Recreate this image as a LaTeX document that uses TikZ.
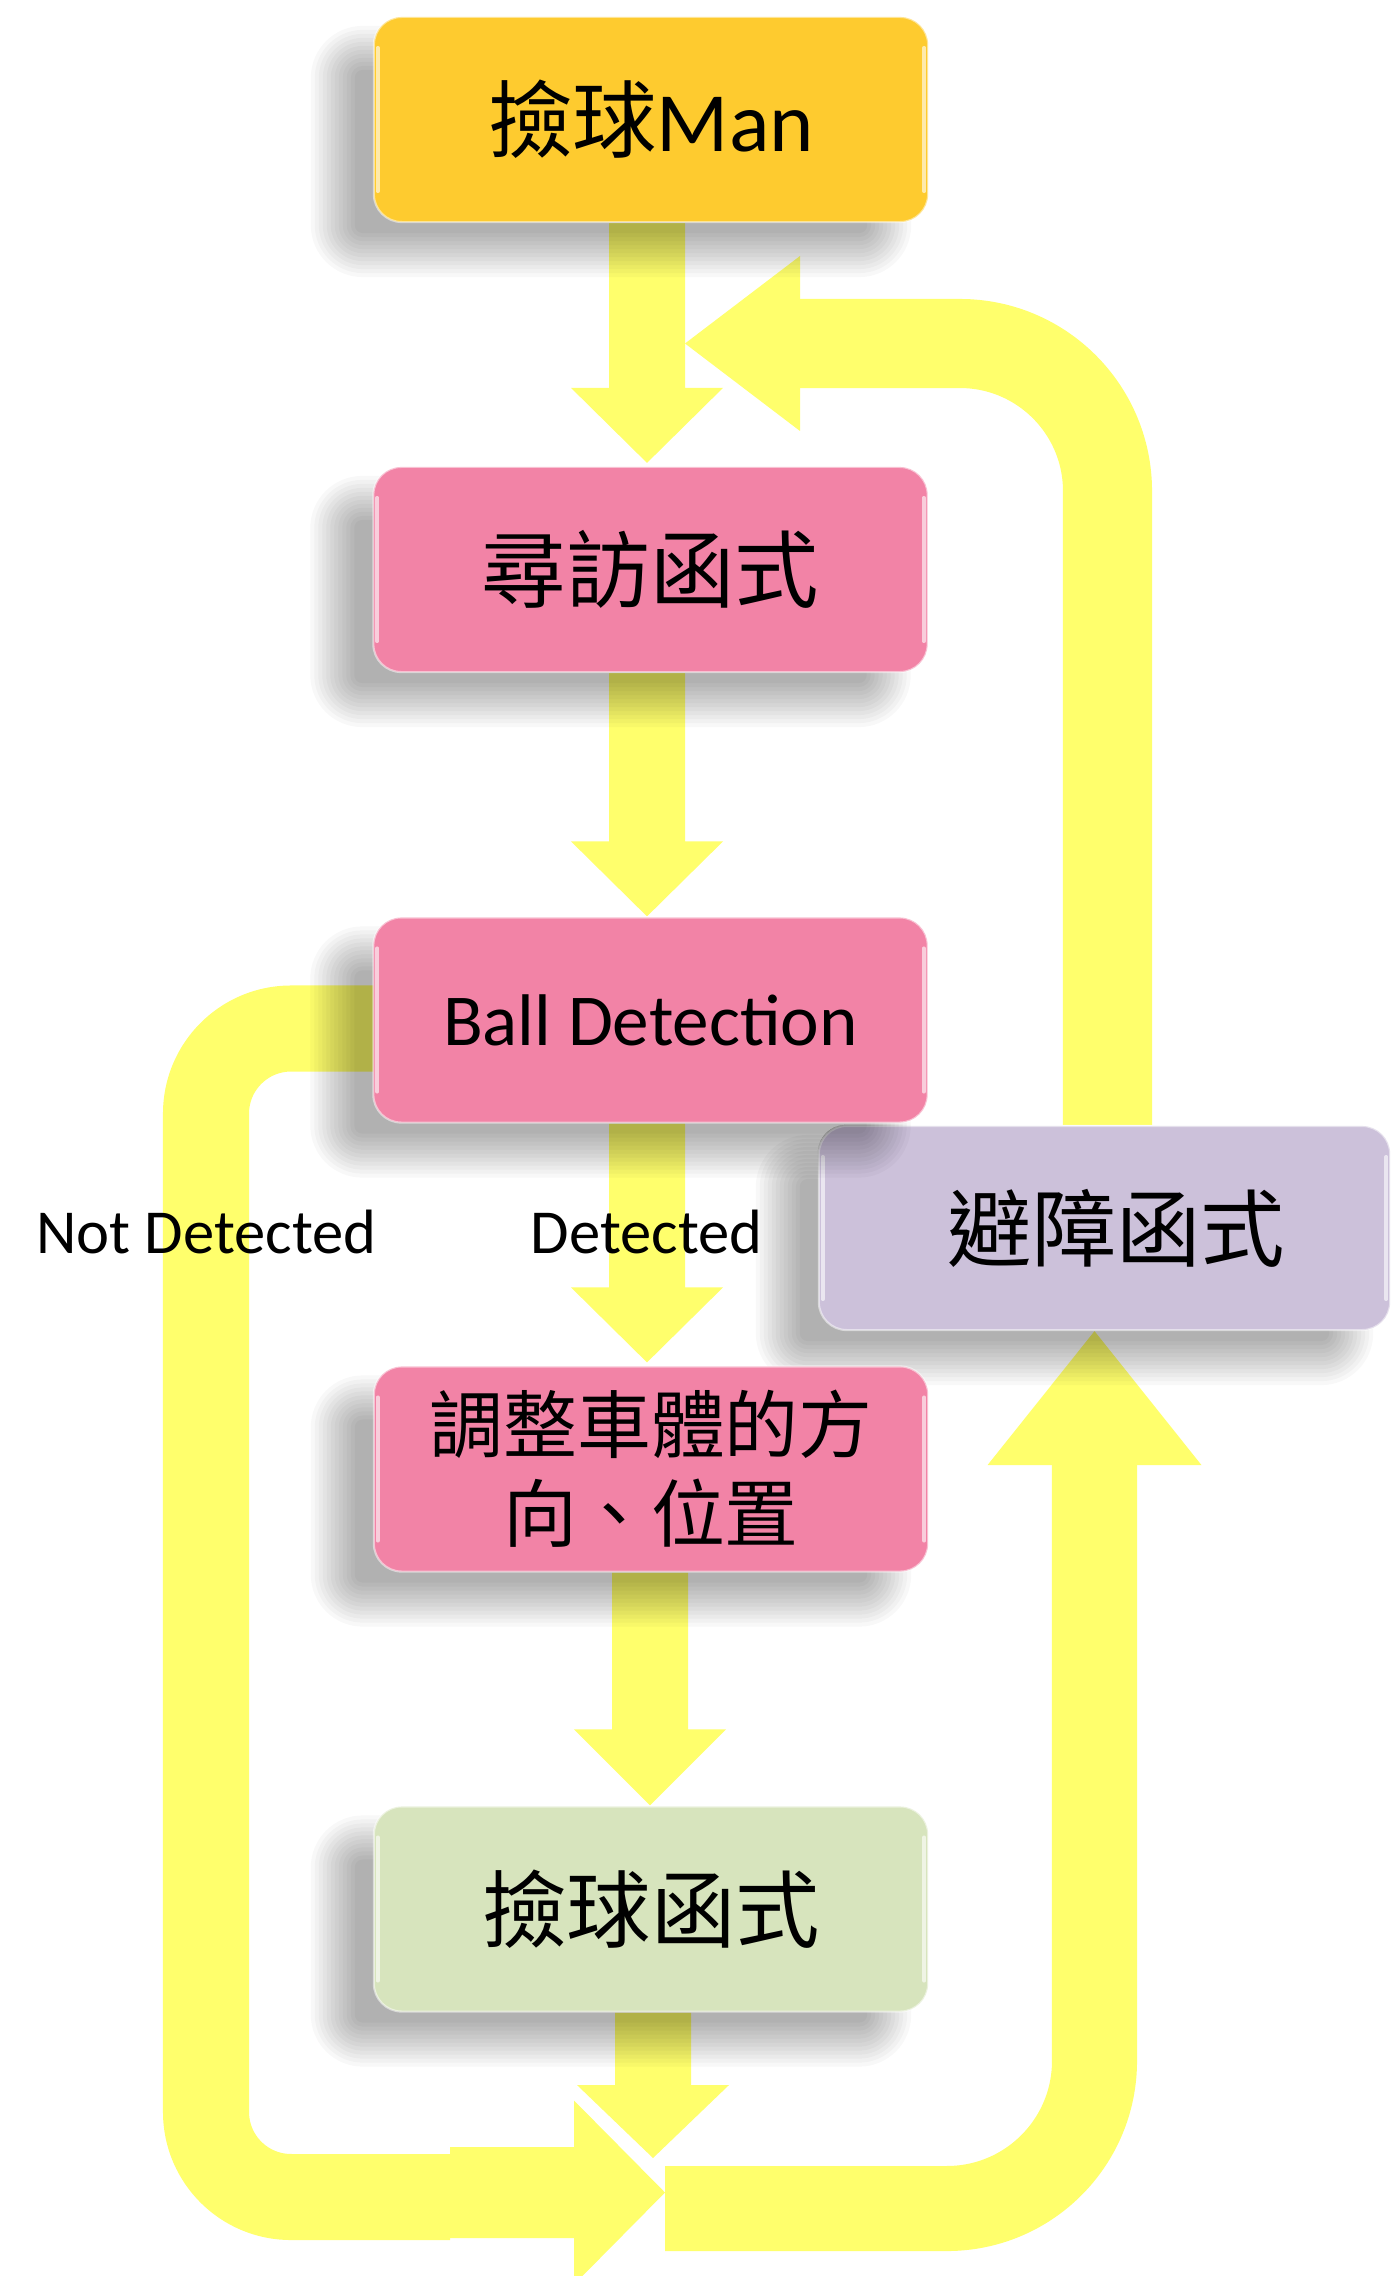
\documentclass[tikz,border=0pt]{standalone}
\usepackage{fontspec}
\setmainfont{Carlito}
\newfontfamily\cjk{Noto Sans CJK TC}
\usetikzlibrary{calc}
\pgfdeclarelayer{arrowlayer}
\pgfdeclarelayer{shadowlayer}
\pgfsetlayers{arrowlayer,shadowlayer,main}
\definecolor{boxgold}{RGB}{254,203,47}
\definecolor{boxpink}{RGB}{242,131,166}
\definecolor{boxgreen}{RGB}{215,228,189}
\definecolor{boxlav}{RGB}{204,193,218}
\definecolor{ayellow}{RGB}{255,255,108}
\tikzset{
  flowbox/.style={rectangle, rounded corners=0.28cm, minimum width=5.54cm, minimum height=2.05cm,
    inner sep=0pt, align=center, draw=white, draw opacity=0.5, line width=0.6pt},
  yband/.style={draw=ayellow, line width=#1, line cap=butt, line join=round},
  yband/.default=0.86cm,
  yhead/.style={fill=ayellow},
  lbl/.style={font=\fontsize{17.8pt}{20pt}\selectfont, anchor=base, inner sep=0pt},
  cjkbig/.style={font=\cjk\fontsize{24pt}{28pt}\selectfont},
  glossline/.style={white, opacity=0.6, line width=1.1pt, line cap=round},
}
\newcommand{\bshadow}[1]{%
  \foreach \shi in {0,...,11}{%
    \pgfmathsetmacro{\shdd}{-22+4*\shi}%
    \pgfmathsetmacro{\shrr}{max(0.30-\shdd/100,0.02)}%
    \pgfmathsetmacro{\shax}{-40+\shdd}%
    \pgfmathsetmacro{\shay}{32+\shdd}%
    \pgfmathsetmacro{\shbx}{-40-\shdd}%
    \pgfmathsetmacro{\shby}{32-\shdd}%
    \fill[black, opacity=0.027, rounded corners=\shrr cm]
      ($(#1.north west)+(\shax,\shay)$) rectangle ($(#1.south east)+(\shbx,\shby)$);
  }%
}
\newcommand{\gloss}[1]{%
  \draw[glossline] ($(#1.north west)+(5,32)$) -- ($(#1.south west)+(5,-32)$);
  \draw[glossline] ($(#1.north east)+(-5,32)$) -- ($(#1.south east)+(-5,-32)$);
}
\newcommand{\downblock}[5]{%
  \fill[yhead] ($(#1)+(-#3,0)$) -- ($(#2)+(-#3,-#5)$) -- ($(#2)+(-#4,-#5)$) -- (#2)
    -- ($(#2)+(#4,-#5)$) -- ($(#2)+(#3,-#5)$) -- ($(#1)+(#3,0)$) -- cycle;
}
\begin{document}
\begin{tikzpicture}[x=0.01cm,y=-0.01cm]
\useasboundingbox (0,0) rectangle (1393,2276);
% boxes
\node[flowbox, fill=boxgold, font=\fontsize{24pt}{28pt}\selectfont] (b1) at (651,119.5) {{\cjk 撿球}Man};
\node[flowbox, fill=boxpink, cjkbig] (b2) at (650.5,569.5) {尋訪函式};
\node[flowbox, fill=boxpink, font=\fontsize{20.8pt}{24pt}\selectfont] (b3) at (650.5,1020) {Ball Detection};
\node[flowbox, fill=boxpink, font=\cjk\fontsize{21pt}{25.3pt}\selectfont] (b4) at (651,1469) {調整車體的方\\向、位置};
\node[flowbox, fill=boxgreen, cjkbig] (b5) at (651,1909) {撿球函式};
\node[flowbox, fill=boxlav, minimum width=5.71cm, minimum height=2.04cm, cjkbig] (b6) at (1104.5,1228) {\hspace*{0.24cm}避障函式};
\foreach \boxname in {b1,b2,b3,b4,b5,b6}{\gloss{\boxname}}
% shadow of Ball Detection falling on the obstacle box
\begin{scope}
  \clip[rounded corners=0.28cm] (b6.north west) rectangle (b6.south east);
  \bshadow{b3}
\end{scope}
% labels
\node[lbl] (nd) at (206.5,1253) {Not Detected};
\node[lbl] (dt) at (646.5,1253) {Detected};

\begin{pgfonlayer}{shadowlayer}
  \foreach \boxname in {b1,b2,b3,b4,b5,b6}{\bshadow{\boxname}}
\end{pgfonlayer}

\begin{pgfonlayer}{arrowlayer}
  \fill[white] (0,0) rectangle (1393,2276);
  \coordinate (colA) at (647,0);
  \coordinate (colB) at (650,0);
  \coordinate (colC) at (653,0);
  \coordinate (t1) at (colA |- b1.south);
  \coordinate (h1) at ($(colA |- b2.north)+(0,-3)$);
  \coordinate (t2) at (colA |- b2.south);
  \coordinate (h2) at (colA |- b3.north);
  \coordinate (t3) at (colA |- b3.south);
  \coordinate (h3) at ($(colA |- b4.north)+(0,-3)$);
  \coordinate (t4) at (colB |- b4.south);
  \coordinate (h4) at (colB |- b5.north);
  \coordinate (t5) at (colC |- b5.south);
  \coordinate (h5) at (653,2158);
  \downblock{t1}{h1}{38}{76}{75}
  \downblock{t2}{h2}{38}{76}{75}
  \downblock{t3}{h3}{38}{76}{75}
  \downblock{t4}{h4}{38}{76}{76}
  \downblock{t5}{h5}{38}{76}{73}
  % loop from obstacle box back to the top
  \coordinate (lt) at (685,343.5);
  \coordinate (rv) at (1107.5,0);
  \draw[yband=0.89cm, rounded corners=1.475cm] (rv |- b6.north) -- (rv |- lt) -- ($(lt)+(113,0)$);
  \fill[yhead] (lt) -- ($(lt)+(115,-87.5)$) -- ($(lt)+(115,87.5)$) -- cycle;
  % loop from the bottom up into the obstacle box
  \coordinate (uc) at (1094.5,0);
  \coordinate (ut) at (uc |- b6.south);
  \coordinate (rt) at (665,2192.5);
  \coordinate (rs) at (665,2208.5);
  \draw[yband=0.85cm, rounded corners=1.475cm] (rs) -- (uc |- rs) -- ($(ut)+(0,132)$);
  \fill[yhead] (ut) -- ($(ut)+(-107,134)$) -- ($(ut)+(107,134)$) -- cycle;
  % Not Detected loop
  \coordinate (le) at (450,2197);
  \draw[yband=0.86cm, rounded corners=0.85cm] ($(b3.west)+(40,8.5)$) -- (206,1028.5) -- (206,2197) -- (le);
  % bottom right-pointing arrow
  \fill[yhead] ($(rt)+(-215,-45.5)$) -- ($(rt)+(-91,-45.5)$) -- ($(rt)+(-91,-92)$) -- (rt)
    -- ($(rt)+(-91,92)$) -- ($(rt)+(-91,45.5)$) -- ($(rt)+(-215,45.5)$) -- cycle;
\end{pgfonlayer}
\end{tikzpicture}
\end{document}
